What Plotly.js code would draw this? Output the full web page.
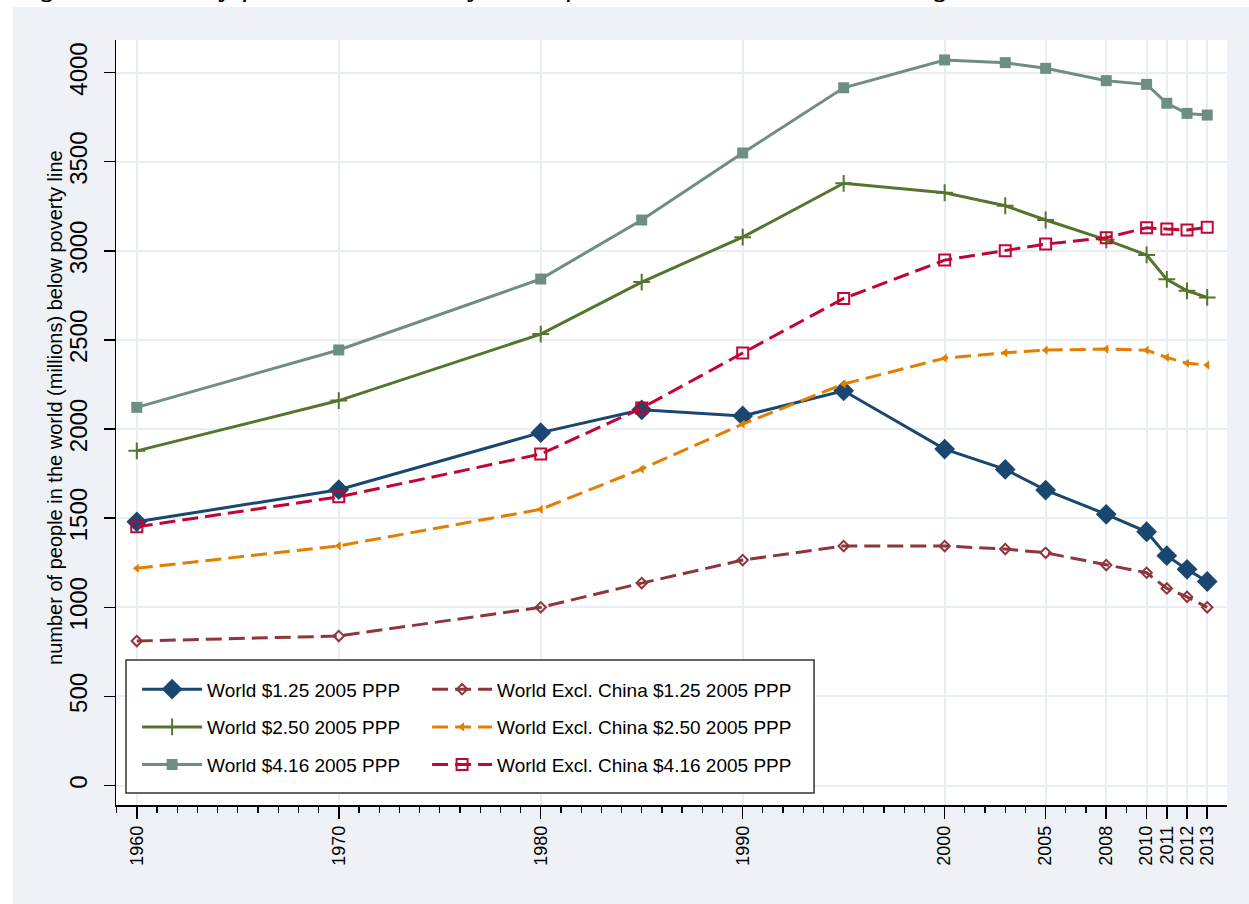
<!DOCTYPE html>
<html>
<head>
<meta charset="utf-8">
<script src="https://cdn.plot.ly/plotly-3.0.1.min.js"></script>
<style>
  html, body { margin: 0; padding: 0; background: #ffffff; width: 1249px; height: 904px; overflow: hidden; }
  #bg { position: absolute; left: 13px; top: 7px; width: 1236px; height: 897px; background: #EEF2F6; }
  #cap { position: absolute; left: 14px; top: -31px; font-family: "Liberation Serif", "Times New Roman", serif; font-style: italic; font-size: 31px; line-height: 31px; white-space: nowrap; color: #000; }
  #chart { position: absolute; left: 0; top: 0; width: 1249px; height: 904px; }
</style>
</head>
<body>
<div id="bg"></div>
<div id="cap">Figure 1: Poverty for various Poverty Lines for World and World excluding China</div>
<div id="chart"></div>
<script>
const years = [1960, 1970, 1980, 1985, 1990, 1995, 2000, 2003, 2005, 2008, 2010, 2011, 2012, 2013];
const world125 = [1480, 1660, 1980, 2108, 2074, 2215, 1888, 1774, 1658, 1522, 1424, 1290, 1213, 1145];
const world250 = [1878, 2160, 2533, 2825, 3077, 3379, 3326, 3253, 3173, 3062, 2977, 2840, 2776, 2739];
const world416 = [2122, 2444, 2842, 3173, 3549, 3915, 4071, 4056, 4024, 3955, 3934, 3828, 3771, 3762];
const exChina125 = [811, 839, 1000, 1136, 1265, 1344, 1344, 1327, 1306, 1237, 1194, 1106, 1059, 1000];
const exChina250 = [1219, 1345, 1550, 1776, 2028, 2253, 2398, 2428, 2443, 2449, 2443, 2402, 2369, 2359];
const exChina416 = [1452, 1620, 1860, 2118, 2427, 2733, 2948, 3001, 3038, 3074, 3130, 3122, 3117, 3132];
const xTickYears = [1960, 1970, 1980, 1990, 2000, 2005, 2008, 2010, 2011, 2012, 2013];
const yTickVals = [0, 500, 1000, 1500, 2000, 2500, 3000, 3500, 4000];
const yTitle = "number of people in the world (millions) below poverty line";
const names = [
  "World $1.25 2005 PPP", "World $2.50 2005 PPP", "World $4.16 2005 PPP",
  "World Excl. China $1.25 2005 PPP", "World Excl. China $2.50 2005 PPP", "World Excl. China $4.16 2005 PPP"
];

const DASH = "16px,7px";
const traces = [
  {y: world125, name: names[0], legend: "legend", legendgroup: "a",
   line: {color: "#1A476F", width: 3}, marker: {symbol: "diamond", size: 16, color: "#1A476F"}},
  {y: world250, name: names[1], legend: "legend", legendgroup: "b",
   line: {color: "#55752F", width: 3}, marker: {symbol: "cross-thin", size: 12, color: "#55752F", line: {color: "#55752F", width: 2}}},
  {y: world416, name: names[2], legend: "legend", legendgroup: "c",
   line: {color: "#6E8E84", width: 3}, marker: {symbol: "square", size: 11, color: "#6E8E84"}},
  {y: exChina125, name: names[3], legend: "legend2", legendgroup: "d",
   line: {color: "#90353B", width: 3, dash: DASH}, marker: {symbol: "diamond-open", size: 8, color: "#90353B", line: {color: "#90353B", width: 2}}},
  {y: exChina250, name: names[4], legend: "legend2", legendgroup: "e",
   line: {color: "#E37E00", width: 3, dash: DASH}, marker: {symbol: "triangle-left", size: 8, color: "#E37E00"}},
  {y: exChina416, name: names[5], legend: "legend2", legendgroup: "f",
   line: {color: "#C10534", width: 3, dash: DASH}, marker: {symbol: "square-open", size: 11, color: "#C10534", line: {color: "#C10534", width: 2}}}
].map(t => Object.assign({x: years, type: "scatter", mode: "lines+markers"}, t));

const legFont = {family: "Liberation Sans, Arial, sans-serif", size: 19, color: "#000"};
const layout = {
  width: 1249, height: 904,
  margin: {l: 116, r: 22, t: 40, b: 99, pad: 0},
  paper_bgcolor: "rgba(0,0,0,0)",
  plot_bgcolor: "#ffffff",
  font: {family: "Liberation Sans, Arial, sans-serif", color: "#000"},
  showlegend: true,
  xaxis: {
    range: [1958.97, 2013.98], tickmode: "array", tickvals: xTickYears, ticktext: xTickYears.map(String),
    tickangle: -90, ticks: "outside", ticklen: 12, tickwidth: 1.5, tickcolor: "#000",
    tickfont: {size: 18, color: "#000"},
    showgrid: true, gridcolor: "#E8EEF4", gridwidth: 2,
    showline: true, linecolor: "#000", linewidth: 1.5, zeroline: false,
    minor: {dtick: 1, tick0: 1960, ticks: "outside", ticklen: 6, tickwidth: 1.2, tickcolor: "#000", showgrid: false},
    automargin: false
  },
  yaxis: {
    range: [-109, 4183], tickmode: "array", tickvals: yTickVals, ticktext: yTickVals.map(String),
    tickangle: -90, ticks: "outside", ticklen: 11, tickwidth: 1.5, tickcolor: "#000",
    tickfont: {size: 24, color: "#000"}, ticklabelstandoff: 7,
    showgrid: true, gridcolor: "#E8EEF4", gridwidth: 2,
    showline: true, linecolor: "#000", linewidth: 1.5, zeroline: false,
    automargin: false
  },
  annotations: [{
    text: yTitle, xref: "paper", yref: "paper", x: -0.0549, y: 0.519,
    xanchor: "center", yanchor: "middle", textangle: -90, showarrow: false,
    font: {size: 20, color: "#000"}
  }],
  shapes: [{
    type: "rect", xref: "paper", yref: "paper", layer: "above",
    x0: 0.009, x1: 0.6283, y0: 0.0157, y1: 0.1895,
    fillcolor: "#ffffff", line: {color: "#333333", width: 1.5}
  }],
  legend: {x: 0.019, y: 0.176, xanchor: "left", yanchor: "top", bgcolor: "rgba(0,0,0,0)", borderwidth: 0,
    font: legFont, tracegroupgap: 10, itemwidth: 60},
  legend2: {x: 0.28, y: 0.176, xanchor: "left", yanchor: "top", bgcolor: "rgba(0,0,0,0)", borderwidth: 0,
    font: legFont, tracegroupgap: 10, itemwidth: 60}
};

Plotly.newPlot("chart", traces, layout, {staticPlot: true, displayModeBar: false});
</script>
</body>
</html>
